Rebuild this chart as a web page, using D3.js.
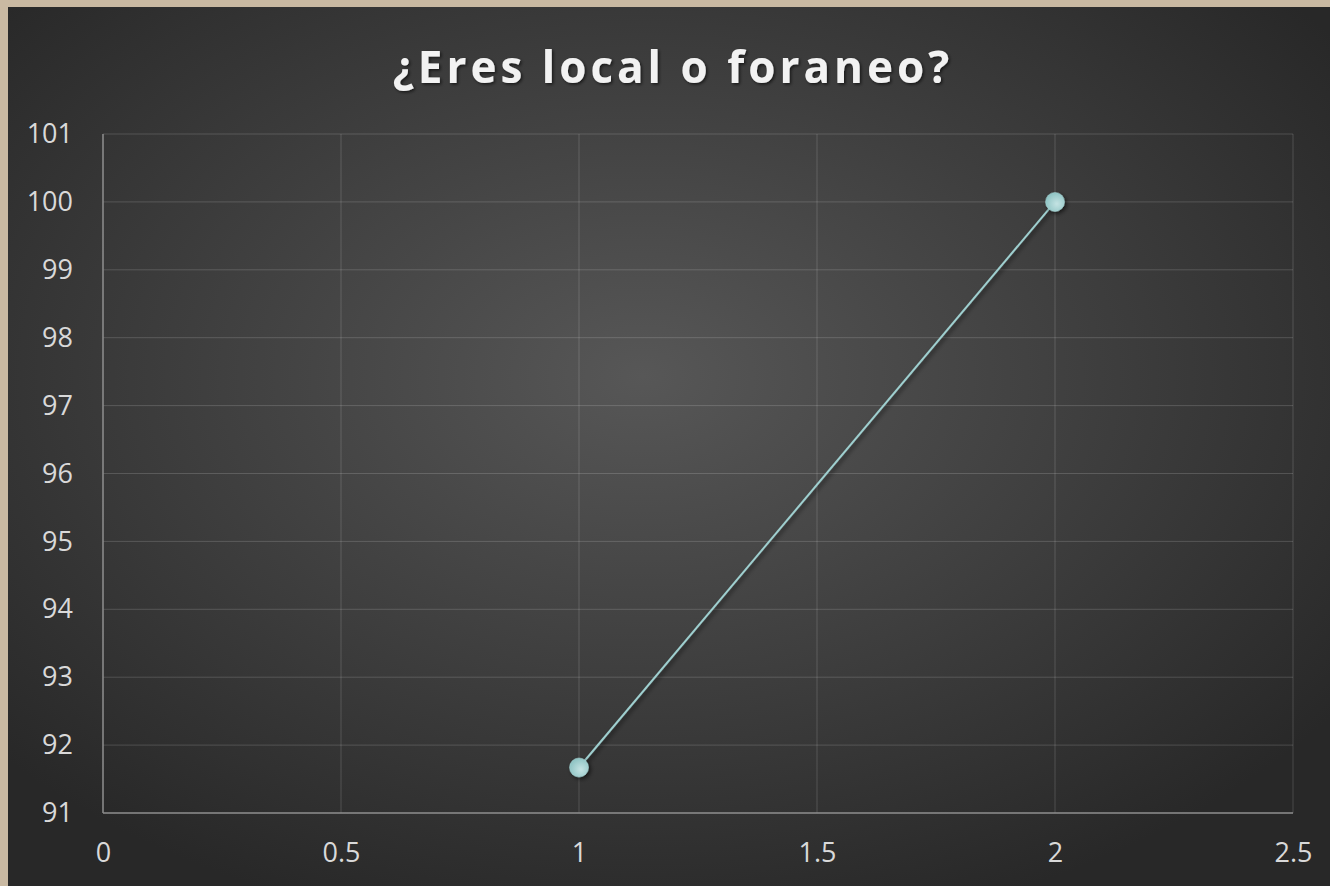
<!DOCTYPE html>
<html><head><meta charset="utf-8">
<script src="https://cdn.jsdelivr.net/npm/d3@7"></script>
<style>html,body{margin:0;padding:0;background:#c9b9a2;overflow:hidden}</style>
</head><body>
<svg id="chart" width="1330" height="886"></svg>
<script>
const title = "¿Eres local o foraneo?";
const xValues = [1, 2];
const yValues = [91.67, 100];
const xTicks = [0, 0.5, 1, 1.5, 2, 2.5];
const yTicks = [91, 92, 93, 94, 95, 96, 97, 98, 99, 100, 101];

const svg = d3.select("#chart");
const W = 1330, H = 886;
const defs = svg.append("defs");
const rg = defs.append("radialGradient").attr("id","bg")
  .attr("cx","48%").attr("cy","42%").attr("r","65%");
rg.append("stop").attr("offset","0%").attr("stop-color","#575757");
rg.append("stop").attr("offset","100%").attr("stop-color","#282828");
const sh = defs.append("filter").attr("id","shadow").attr("x","-50%").attr("y","-50%").attr("width","200%").attr("height","200%");
sh.append("feDropShadow").attr("dx",2).attr("dy",2).attr("stdDeviation",2).attr("flood-color","#000").attr("flood-opacity",0.6);
const ts = defs.append("filter").attr("id","tshadow").attr("x","-10%").attr("y","-30%").attr("width","120%").attr("height","160%");
ts.append("feDropShadow").attr("dx",1.5).attr("dy",1.5).attr("stdDeviation",1.5).attr("flood-color","#000").attr("flood-opacity",0.6);
const mg = defs.append("radialGradient").attr("id","marker").attr("cx","60%").attr("cy","60%").attr("r","60%");
mg.append("stop").attr("offset","0%").attr("stop-color","#c4e3e3");
mg.append("stop").attr("offset","100%").attr("stop-color","#8fc4c4");

svg.append("rect").attr("x",8).attr("y",7).attr("width",W-8).attr("height",H-7).attr("fill","url(#bg)");

const m = {l:103, r:1293, t:134, b:813};
const x = d3.scaleLinear().domain([0,2.5]).range([m.l,m.r]);
const y = d3.scaleLinear().domain([91,101]).range([m.b,m.t]);

svg.append("text").attr("x",673).attr("y",83).attr("text-anchor","middle")
  .attr("font-family","Open Sans, Lato, sans-serif").attr("font-weight",700).attr("font-size",44)
  .attr("letter-spacing",4).attr("fill","#f2f2f2").attr("filter","url(#tshadow)").text(title);

const gridColor = "rgba(255,255,255,0.16)";
svg.append("g").selectAll("line").data(yTicks).join("line")
  .attr("x1",m.l).attr("x2",m.r).attr("y1",d=>y(d)).attr("y2",d=>y(d))
  .attr("stroke",gridColor).attr("stroke-width",1);
svg.append("g").selectAll("line").data(xTicks).join("line")
  .attr("y1",m.t).attr("y2",m.b).attr("x1",d=>x(d)).attr("x2",d=>x(d))
  .attr("stroke",gridColor).attr("stroke-width",1);

svg.append("line").attr("x1",m.l).attr("x2",m.r).attr("y1",m.b).attr("y2",m.b).attr("stroke","#8a8a8a").attr("stroke-width",1.5);
svg.append("line").attr("x1",m.l).attr("x2",m.l).attr("y1",m.t).attr("y2",m.b).attr("stroke","#8a8a8a").attr("stroke-width",1.5);

const yAxis = d3.axisLeft(y).tickValues(yTicks).tickSize(0).tickPadding(30).tickFormat(d3.format("d"));
const gy = svg.append("g").attr("transform",`translate(${m.l},0)`).call(yAxis);
gy.select(".domain").remove();
gy.selectAll("text").attr("font-family","Open Sans, Lato, sans-serif").attr("font-size",27).attr("fill","#d9d9d9");

const xAxis = d3.axisBottom(x).tickValues(xTicks).tickSize(0).tickPadding(30).tickFormat(d=>String(d));
const gx = svg.append("g").attr("transform",`translate(0,${m.b})`).call(xAxis);
gx.select(".domain").remove();
gx.selectAll("text").attr("font-family","Open Sans, Lato, sans-serif").attr("font-size",27).attr("fill","#d9d9d9");

const pts = xValues.map((v,i)=>[v,yValues[i]]);
svg.append("path").datum(pts)
  .attr("d", d3.line().x(d=>x(d[0])).y(d=>y(d[1])))
  .attr("fill","none").attr("stroke","#9fd0d0").attr("stroke-width",2).attr("filter","url(#shadow)");
svg.append("g").selectAll("circle").data(pts).join("circle")
  .attr("cx",d=>x(d[0])).attr("cy",d=>y(d[1])).attr("r",9.5)
  .attr("fill","url(#marker)").attr("stroke","#a6d4d4").attr("stroke-width",0.5).attr("filter","url(#shadow)");
</script>
</body></html>
